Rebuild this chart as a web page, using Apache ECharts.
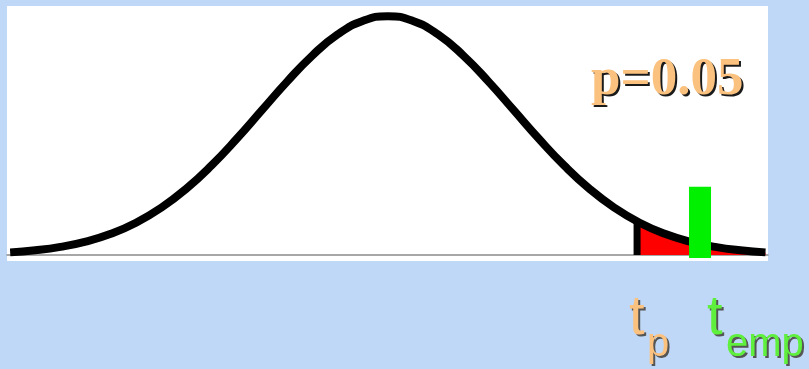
<!DOCTYPE html>
<html>
<head>
<meta charset="utf-8">
<style>
html, body { margin: 0; padding: 0; background: #bfd8f8; }
#chart { width: 809px; height: 369px; }
</style>
<script src="https://cdn.jsdelivr.net/npm/echarts@6/dist/echarts.min.js"></script>
</head>
<body>
<div id="chart"></div>
<script>
// bell curve (t on x, height on y)
const tValues = [-3.0, -2.8, -2.6, -2.4, -2.2, -2.0, -1.8, -1.6, -1.4, -1.2, -1.0, -0.8, -0.6, -0.4, -0.2, 0,
  0.2, 0.4, 0.6, 0.8, 1.0, 1.2, 1.4, 1.6, 1.8, 2.0, 2.2, 2.4, 2.6, 2.8, 3.0]
const heights = [0.0044, 0.0079, 0.0136, 0.0224, 0.0355, 0.0540, 0.0790, 0.1109, 0.1497, 0.1942, 0.2420, 0.2897, 0.3332, 0.3683, 0.3910, 0.3989,
  0.3910, 0.3683, 0.3332, 0.2897, 0.2420, 0.1942, 0.1497, 0.1109, 0.0790, 0.0540, 0.0355, 0.0224, 0.0136, 0.0079, 0.0044]

const tCritical = 1.98
const heightAtCritical = 0.0562
const tEmp = 2.48
const empBar = [-0.005, 0.114]

const pLabel = 'p=0.05'
const critLabel = ['t', 'p']
const empLabel = ['t', 'emp']

const curve = tValues.map((t, i) => [t, heights[i]])
const tail = [[tCritical, heightAtCritical]].concat(curve.filter((d) => d[0] > tCritical))

const chart = echarts.init(document.getElementById('chart'))

const orange = '#fbc17e'
const green = '#5ef03c'
const serif = 'bold 53px "Liberation Serif", serif'
const big = '56px "Liberation Sans", Arial, sans-serif'
const small = '40px "Liberation Sans", Arial, sans-serif'

// text with a hard drop shadow: dark copy first, coloured copy on top
const shadowText = (text, left, top, font, fill, shade) => [
  { type: 'text', left: left + 2, top: top + 2, style: { text, font, fill: shade } },
  { type: 'text', left, top, style: { text, font, fill } }
]

chart.setOption({
  backgroundColor: '#bfd8f8',
  animation: false,
  grid: { left: 7, right: 41, top: 6, bottom: 108, show: true, backgroundColor: '#fff', borderWidth: 0 },
  xAxis: {
    type: 'value',
    min: -3.025,
    max: 3.02,
    axisLine: { show: true, onZero: true, lineStyle: { color: '#8a8a8a', width: 1.5 } },
    axisTick: { show: false },
    axisLabel: { show: false },
    splitLine: { show: false }
  },
  yAxis: {
    type: 'value',
    min: -0.01,
    max: 0.416,
    show: false,
    splitLine: { show: false }
  },
  series: [
    {
      type: 'line',
      data: tail,
      smooth: true,
      showSymbol: false,
      lineStyle: { width: 0 },
      areaStyle: { color: '#ff0000', opacity: 1 }
    },
    {
      type: 'line',
      data: curve,
      smooth: true,
      showSymbol: false,
      lineStyle: { color: '#000', width: 8, cap: 'butt', join: 'round' }
    },
    {
      type: 'line',
      data: [[tCritical, 0], [tCritical, heightAtCritical]],
      showSymbol: false,
      lineStyle: { color: '#000', width: 7, cap: 'butt' }
    },
    {
      type: 'line',
      data: [[tEmp, empBar[0]], [tEmp, empBar[1]]],
      showSymbol: false,
      lineStyle: { color: '#00f000', width: 22, cap: 'butt' }
    }
  ],
  graphic: [].concat(
    shadowText(pLabel, 591, 54, serif, orange, '#1a1a1a'),
    shadowText(critLabel[0], 629, 291, big, orange, '#555'),
    shadowText(critLabel[1], 647, 325, small, orange, '#555'),
    shadowText(empLabel[0], 707, 291, big, green, '#555'),
    shadowText(empLabel[1], 726, 325, small, green, '#555')
  )
})
</script>
</body>
</html>
